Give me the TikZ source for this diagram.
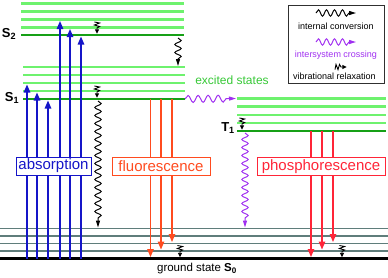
\documentclass[tikz,border=0pt]{standalone}
\usepackage{fontspec}
\setmainfont{Liberation Sans}
\usetikzlibrary{arrows.meta,decorations.pathmorphing}
\definecolor{vibgreen}{HTML}{6EF26E}
\definecolor{levgreen}{HTML}{16A016}
\definecolor{labelgreen}{HTML}{36C836}
\definecolor{groundgrey}{HTML}{5F7D7B}
\definecolor{absblue}{HTML}{1515C8}
\definecolor{fluorange}{HTML}{FF4B1F}
\definecolor{phosred}{HTML}{FF2538}
\definecolor{iscpurple}{HTML}{A030F0}
\definecolor{keyframe}{HTML}{303030}
\tikzset{
  vib/.style    ={draw=vibgreen, line width=2.2pt},
  lev/.style    ={draw=levgreen, line width=2.4pt},
  gvib/.style   ={draw=groundgrey, line width=1.8pt},
  glev/.style   ={draw=black, line width=2.2pt},
  radarr/.style ={line width=1.3pt, shorten >=1.5pt,
                  -{Triangle[length=8pt,width=6.5pt]}},
  absarr/.style ={radarr, draw=absblue},
  fluarr/.style ={radarr, draw=fluorange},
  phoarr/.style ={radarr, draw=phosred},
  wavy/.style   ={line width=1pt, decorate, shorten >=1pt,
                  decoration={snake, amplitude=3.2pt, segment length=8pt, post length=7pt},
                  -{Triangle[length=7pt,width=4pt]}},
  icarr/.style  ={wavy, draw=black},
  iscarr/.style ={wavy, draw=iscpurple},
  procbox/.style={rectangle, fill=white, line width=1pt, inner sep=0pt,
                  minimum height=18pt, font=\fontsize{15}{15}\selectfont},
  lvllbl/.style ={font=\fontsize{13}{13}\selectfont\bfseries},
  keylbl/.style ={font=\fontsize{9}{9}\selectfont},
}
\newcommand{\vibrel}[3]{%
  \begin{scope}[shift={(#1,#2)}, rotate=#3]
    \draw[line width=0.9pt, -{Triangle[length=4.5pt,width=4pt]}]
         (-2.6,-13) -- (2.6,-12) -- (-2.6,-10) -- (2.6,-8.5) -- (0,-7) -- (0,-1.2);
  \end{scope}%
}

\begin{document}
\begin{tikzpicture}[x=1pt, y=-1pt]
\useasboundingbox (0,0) rectangle (388,277);

% ---------------- singlet S2 ----------------
\foreach \y/\n in {3.5/s2v0, 11.5/s2v1, 19.5/s2v2, 27.5/s2v3}
  \draw[vib] (21,\y) coordinate (\n) -- (184,\y);
\draw[lev] (21,35) coordinate (s2) -- (184,35);

% ---------------- singlet S1 ----------------
\foreach \y/\n in {67/s1v0, 75/s1v1, 83/s1v2, 91/s1v3}
  \draw[vib] (23,\y) coordinate (\n) -- (185,\y);
\draw[lev] (23,99) coordinate (s1) -- (185,99) coordinate (s1r);

% ---------------- triplet T1 ----------------
\foreach \y/\n in {98.5/t1v0, 106.5/t1v1, 115/t1v2, 123/t1v3}
  \draw[vib] (237,\y) coordinate (\n) -- (386,\y);
\draw[lev] (237,131) coordinate (t1) -- (386,131);

% ---------------- ground state S0 ----------------
\foreach \y/\n in {228.5/s0v0, 236/s0v1, 243.5/s0v2, 251/s0v3}
  \draw[gvib] (0,\y) coordinate (\n) -- (388,\y);
\draw[glev] (0,258.5) coordinate (s0) -- (388,258.5);

% ---------------- radiative transitions ----------------
\foreach \x/\n in {27/s1v2, 37/s1v3, 48/s1, 60/s2v2, 70/s2v3, 81/s2}
  \draw[absarr] (\x,0 |- s0) -- (\x,0 |- \n);
\foreach \x/\n in {150.5/s0, 161/s0v3, 172/s0v2}
  \draw[fluarr] (\x,0 |- s1) -- (\x,0 |- \n);
\foreach \x/\n in {311/s0, 322/s0v3, 333/s0v2}
  \draw[phoarr] (\x,0 |- t1) -- (\x,0 |- \n);

% ---------------- non-radiative transitions ----------------
\coordinate (ic2)  at (178,38);
\coordinate (ic1)  at (98,101);
\coordinate (isc2) at (245,133);
\draw[icarr] (ic2) -- (ic2 |- s1v0);
\draw[icarr] (ic1) -- (ic1 |- s0v0);
\draw[iscarr, decoration={amplitude=3.5pt, segment length=10pt}] (s1r) -- (t1v0);
\draw[iscarr] (isc2) -- (isc2 |- s0v0);

\vibrel{97}{35}{0}
\vibrel{97}{99}{0}
\vibrel{242}{131}{0}
\vibrel{180}{258.5}{0}
\vibrel{342}{258.5}{0}

% ---------------- process boxes ----------------
\node[procbox, draw=absblue, text=absblue, minimum width=75pt]
      (absbox) at (53.5,166) {absorption};
\node[procbox, draw=fluorange, text=fluorange, minimum width=98pt]
      (flubox) at (161,166) {fluorescence};
\node[procbox, draw=phosred, text=phosred, minimum width=128pt]
      (phobox) at (321,166.5) {phosphorescence};

% ---------------- labels ----------------
\node[lvllbl] (lblS2) at (9,34)   {S\textsubscript{2}};
\node[lvllbl] (lblS1) at (12,98)  {S\textsubscript{1}};
\node[lvllbl] (lblT1) at (228,128) {T\textsubscript{1}};
\node[font=\fontsize{12}{12}\selectfont, text=labelgreen] (excited) at (232,80) {excited states};
\node[font=\fontsize{11.5}{11.5}\selectfont] (ground) at (197,269)
      {ground state \textbf{S\textsubscript{0}}};

% ---------------- legend ----------------
\node[draw=keyframe, line width=1pt, minimum width=96pt, minimum height=78pt,
      inner sep=0pt] (key) at (336,44) {};
\coordinate (keyicA)  at (316,13);
\coordinate (keyicB)  at (357,13);
\coordinate (keyiscA) at (316,42);
\coordinate (keyiscB) at (357,42);
\draw[icarr] (keyicA) -- (keyicB);
\node[keylbl] (keyic) at (336,26) {internal conversion};
\draw[iscarr] (keyiscA) -- (keyiscB);
\node[keylbl, text=iscpurple] (keyisc) at (336,55) {intersystem crossing};
\vibrel{348}{67}{90}
\node[keylbl] (keyvr) at (334.5,76) {vibrational relaxation};

\end{tikzpicture}
\end{document}
